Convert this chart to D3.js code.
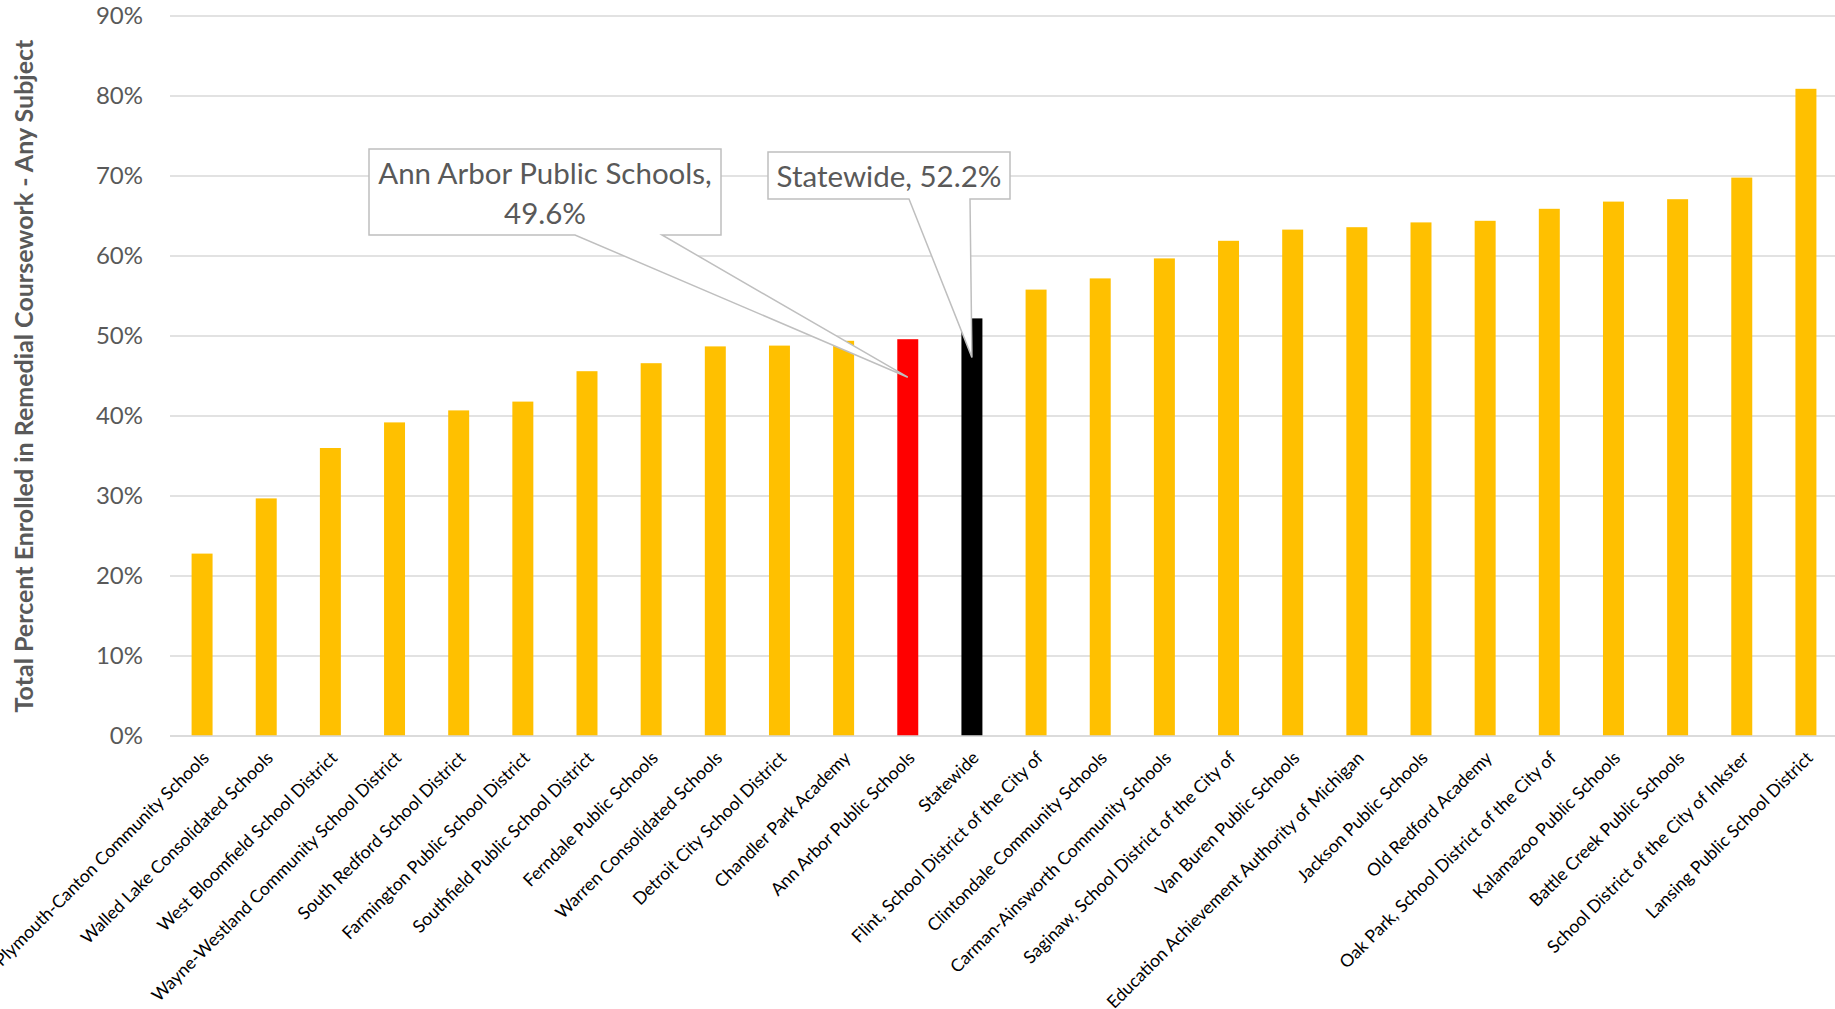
<!DOCTYPE html>
<html>
<head>
<meta charset="utf-8">
<script src="https://cdn.jsdelivr.net/npm/d3@7"></script>
<style>
  html, body { margin: 0; padding: 0; background: #fff; }
  svg { display: block; font-family: Lato, "Open Sans", sans-serif; }
</style>
</head>
<body>
<svg id="chart" width="1835" height="1009"></svg>
<script>
const categories = [
  "Plymouth-Canton Community Schools",
  "Walled Lake Consolidated Schools",
  "West Bloomfield School District",
  "Wayne-Westland Community School District",
  "South Redford School District",
  "Farmington Public School District",
  "Southfield Public School District",
  "Ferndale Public Schools",
  "Warren Consolidated Schools",
  "Detroit City School District",
  "Chandler Park Academy",
  "Ann Arbor Public Schools",
  "Statewide",
  "Flint, School District of the City of",
  "Clintondale Community Schools",
  "Carman-Ainsworth Community Schools",
  "Saginaw, School District of the City of",
  "Van Buren Public Schools",
  "Education Achievement Authority of Michigan",
  "Jackson Public Schools",
  "Old Redford Academy",
  "Oak Park, School District of the City of",
  "Kalamazoo Public Schools",
  "Battle Creek Public Schools",
  "School District of the City of Inkster",
  "Lansing Public School District"
];
const values = [
  22.8, 29.7, 36.0, 39.2, 40.7, 41.8, 45.6, 46.6, 48.7, 48.8,
  49.4, 49.6, 52.2, 55.8, 57.2, 59.7, 61.9, 63.3, 63.6, 64.2,
  64.4, 65.9, 66.8, 67.1, 69.8, 80.9
];
const highlightCategories = ["Ann Arbor Public Schools", "Statewide"];
const highlightColors = ["#FF0000", "#000000"];
const defaultColor = "#FFC000";
const yTicks = [0, 10, 20, 30, 40, 50, 60, 70, 80, 90];
const yTitle = "Total Percent Enrolled in Remedial Coursework - Any Subject";
const calloutCategories = ["Ann Arbor Public Schools", "Statewide"];
const calloutLines = [["Ann Arbor Public Schools,", "49.6%"], ["Statewide, 52.2%"]];

(function () {
const svg = d3.select("#chart");
const W = 1835, H = 1009;
const pLeft = 170, pRight = 1838, pTop = 16, pBottom = 736;

const x = d3.scaleBand().domain(categories).range([pLeft, pRight])
  .paddingInner(0.673).paddingOuter(0.3365);
const y = d3.scaleLinear().domain([0, 90]).range([pBottom, pTop]);

// gridlines
svg.append("g").selectAll("line").data(yTicks).join("line")
  .attr("x1", pLeft).attr("x2", W)
  .attr("y1", d => y(d)).attr("y2", d => y(d))
  .attr("stroke", "#D9D9D9").attr("stroke-width", 1.5);

// y tick labels via axis
const yAxis = svg.append("g").attr("transform", `translate(${pLeft},0)`)
  .call(d3.axisLeft(y).tickValues(yTicks).tickFormat(d => d + "%").tickSize(0).tickPadding(27));
yAxis.select(".domain").remove();
yAxis.selectAll("text").attr("font-size", 24).attr("fill", "#595959")
  .attr("font-family", "Lato, sans-serif");

// bars
const colorOf = c => {
  const i = highlightCategories.indexOf(c);
  return i >= 0 ? highlightColors[i] : defaultColor;
};
svg.append("g").selectAll("rect").data(categories).join("rect")
  .attr("x", d => x(d)).attr("width", x.bandwidth())
  .attr("y", (d, i) => y(values[i]))
  .attr("height", (d, i) => y(0) - y(values[i]))
  .attr("fill", d => colorOf(d));

// x axis line
svg.append("line").attr("x1", pLeft).attr("x2", W).attr("y1", pBottom).attr("y2", pBottom)
  .attr("stroke", "#D9D9D9").attr("stroke-width", 1.5);

// x labels
const xAxis = svg.append("g").attr("transform", `translate(0,${pBottom})`)
  .call(d3.axisBottom(x).tickSize(0).tickPadding(0));
xAxis.select(".domain").remove();
xAxis.selectAll("text")
  .attr("font-size", 17.6).attr("fill", "#000")
  .attr("font-family", "Lato, sans-serif")
  .attr("text-anchor", "end")
  .attr("dy", null)
  .attr("y", 0)
  .attr("transform", "translate(8,23) rotate(-45)");

// y title
svg.append("text")
  .attr("transform", "translate(23,376) rotate(-90)")
  .attr("text-anchor", "middle").attr("dominant-baseline", "central")
  .attr("font-size", 25).attr("font-weight", "bold").attr("fill", "#595959")
  .text(yTitle);

// callouts
const boxes = [
  {x0: 369, x1: 721, y0: 149, y1: 235, w0: 575, w1: 662, off: 38},
  {x0: 768, x1: 1010, y0: 152, y1: 199, w0: 909, w1: 970, off: 39}
];
calloutCategories.forEach((c, k) => {
  const b = boxes[k];
  const vi = categories.indexOf(c);
  const tx = x(c) + x.bandwidth() / 2;
  const ty = y(values[vi]) + b.off;
  const p = `M${b.x0},${b.y0} H${b.x1} V${b.y1} H${b.w1} L${tx},${ty} L${b.w0},${b.y1} H${b.x0} Z`;
  svg.append("path").attr("d", p).attr("fill", "#fff")
    .attr("stroke", "#BFBFBF").attr("stroke-width", 1.5).attr("stroke-linejoin", "miter");
  const lines = calloutLines[k];
  const cx = (b.x0 + b.x1) / 2, cy = (b.y0 + b.y1) / 2;
  const lh = 40;
  lines.forEach((t, j) => {
    svg.append("text")
      .attr("x", cx).attr("y", cy + (j - (lines.length - 1) / 2) * lh)
      .attr("text-anchor", "middle").attr("dominant-baseline", "central")
      .attr("font-size", 29.5).attr("fill", "#595959")
      .text(t);
  });
});
})();
</script>
</body>
</html>
